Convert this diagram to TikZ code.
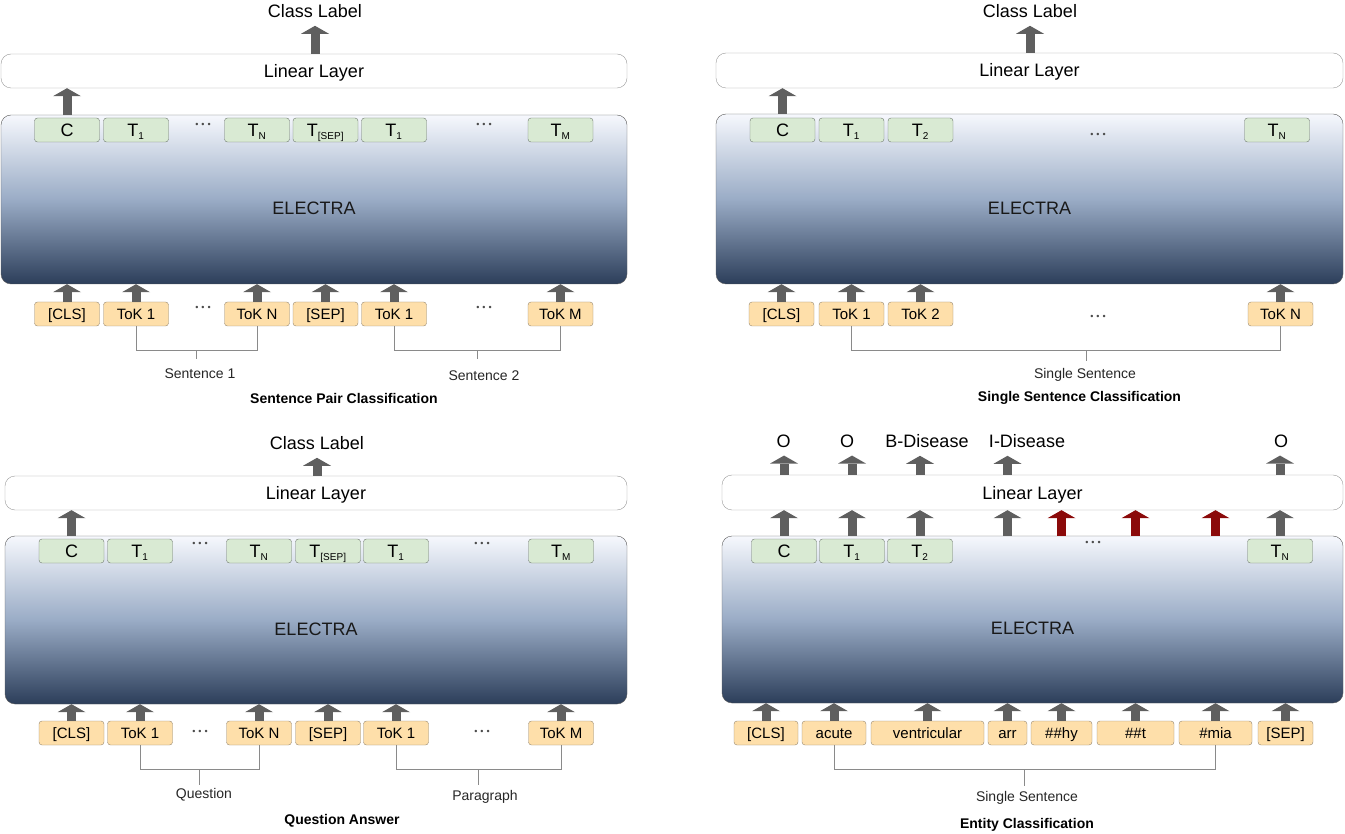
\documentclass[tikz,border=0pt]{standalone}
\usepackage{fontspec}
\setmainfont{Liberation Sans}
\usetikzlibrary{arrows.meta,calc}

\definecolor{tokfill}{HTML}{FEDFAA}
\definecolor{tokline}{HTML}{948670}
\definecolor{embfill}{HTML}{D9EAD3}
\definecolor{embline}{HTML}{6E786E}
\definecolor{linline}{HTML}{9A9A9A}
\definecolor{enctop}{HTML}{F6F8FD}
\definecolor{encmid}{HTML}{9AACC6}
\definecolor{encbot}{HTML}{2C3E5A}
\definecolor{encline}{HTML}{5A5A5A}
\definecolor{arrgray}{HTML}{5F5F5F}
\definecolor{arrred}{HTML}{8B0A0A}
\definecolor{brkgray}{HTML}{8A8A8A}

\newcommand\tsub[1]{\textsubscript{\fontsize{10}{12}\selectfont #1}}
\newcommand\tdots{\fontsize{9}{10}\selectfont\textbullet\hspace{3pt}\textbullet\hspace{3pt}\textbullet}

\begin{document}
\begin{tikzpicture}
                    [x=1pt,y=-1pt,
                     tok/.style={draw=tokline,fill=tokfill,rounded corners=3pt,minimum width=65pt,minimum height=24pt,
                                 inner sep=0pt,text height=11pt,text depth=0pt,font=\fontsize{15}{17}\selectfont},
                     emb/.style={draw=embline,fill=embfill,rounded corners=3pt,minimum width=65pt,minimum height=24pt,
                                 inner sep=0pt,text height=13pt,text depth=0pt,font=\fontsize{18}{20}\selectfont},
                     lin/.style={draw=linline,fill=white,rounded corners=10pt,minimum width=626pt,minimum height=34pt,
                                 text height=13pt,text depth=0pt,font=\fontsize{18}{20}\selectfont},
                     enc/.style={draw=encline,top color=enctop,bottom color=encbot,middle color=encmid,
                                 rounded corners=10pt,minimum width=626pt,minimum height=169pt,
                                 label={[yshift=-9pt,font=\fontsize{18}{20}\selectfont,text=black!90]center:ELECTRA}},
                     up/.style={draw=arrgray,line width=9pt,-{Triangle[width=28pt,length=8pt,line width=0pt]}},
                     brk/.style={draw=brkgray,line width=1pt},
                     outlbl/.style={inner sep=8pt,font=\fontsize{18}{20}\selectfont},
                     lbl/.style={text=black!85,font=\fontsize{14}{16}\selectfont},
                     ttl/.style={font=\bfseries\fontsize{14}{16}\selectfont},
                     dts/.style={text=black!70,inner sep=0pt}]

                \useasboundingbox (0,0) rectangle (1345,834);

                % sentence pair classification
                \node[outlbl] (aC) at (315,11) {Class Label};
                \node[lin] (aL) at (314,71) {Linear Layer};
                \node[enc] (aE) at (314,199.5) {};
                \foreach \i/\x/\t in {1/67/C,2/136/T\tsub{1},3/257/T\tsub{N},4/325.5/T\tsub{[SEP]},5/394/T\tsub{1},6/560.5/T\tsub{M}}
                    \node[emb] (aEmb\i) at (\x,130) {\t};
                \foreach \i/\x/\t in {1/67/{[CLS]},2/136/ToK 1,3/257/ToK N,4/325.5/{[SEP]},5/394/ToK 1,6/560.5/ToK M}
                    \node[tok] (aTok\i) at (\x,314) {\t};
                \node[dts] (aD1) at (203,125) {\tdots};
                \node[dts] (aD2) at (484,125) {\tdots};
                \node[dts] (aD3) at (203,308) {\tdots};
                \node[dts] (aD4) at (484,308) {\tdots};
                \foreach \i in {1,...,6}
                    \draw[up] (aTok\i.north) -- (aTok\i |- aE.south);
                \draw[up] (aE.north -| aEmb1) -- (aL.south -| aEmb1);
                \draw[up] (aL.north -| aC) -- (aC.south);
                \draw[brk] (aTok2.south) -- ++(0,24) -| (aTok3.south);
                \draw[brk] ($(aTok2.south)!.5!(aTok3.south)$) ++(0,24) -- ++(0,9);
                \draw[brk] (aTok5.south) -- ++(0,24) -| (aTok6.south);
                \draw[brk] ($(aTok5.south)!.5!(aTok6.south)$) ++(0,24) -- ++(0,9);
                \node[lbl] (aLb1) at (200,374) {Sentence 1};
                \node[lbl] (aLb2) at (484,376) {Sentence 2};
                \node[ttl] (aT) at (344,398) {Sentence Pair Classification};

                % single sentence classification
                \node[outlbl] (bC) at (1030,11) {Class Label};
                \node[lin,minimum width=627pt,minimum height=35pt] (bL) at (1029.5,70.5) {Linear Layer};
                \node[enc,minimum width=627pt,minimum height=170pt] (bE) at (1029.5,199) {};
                \foreach \i/\x/\t in {1/782.5/C,2/851.5/T\tsub{1},3/920.5/T\tsub{2},4/1277/T\tsub{N}}
                    \node[emb] (bEmb\i) at (\x,130) {\t};
                \foreach \i/\x/\t in {1/781.5/{[CLS]},2/851.5/ToK 1,3/920.5/ToK 2,4/1280.5/ToK N}
                    \node[tok] (bTok\i) at (\x,314) {\t};
                \node[dts] (bD1) at (1098,135) {\tdots};
                \node[dts] (bD2) at (1098,317) {\tdots};
                \foreach \i in {1,...,4}
                    \draw[up] (bTok\i.north) -- (bTok\i |- bE.south);
                \draw[up] (bE.north -| bEmb1) -- (bL.south -| bEmb1);
                \draw[up] (bL.north -| bC) -- (bC.south);
                \draw[brk] (bTok2.south) -- ++(0,24) -| (bTok4.south);
                \draw[brk] ($(bTok2.south)!.547!(bTok4.south)$) ++(0,24) -- ++(0,11);
                \node[lbl] (bLb) at (1085,375) {Single Sentence};
                \node[ttl] (bT) at (1079.5,398) {Single Sentence Classification};

                % question answer
                \node[outlbl] (cC) at (317,443) {Class Label};
                \node[lin,minimum width=622pt] (cL) at (316,493) {Linear Layer};
                \node[enc,minimum width=622pt,minimum height=168pt] (cE) at (316,620) {};
                \foreach \i/\x/\t in {1/71.5/C,2/140/T\tsub{1},3/259/T\tsub{N},4/328/T\tsub{[SEP]},5/396/T\tsub{1},6/561/T\tsub{M}}
                    \node[emb] (cEmb\i) at (\x,551) {\t};
                \foreach \i/\x/\t in {1/71.5/{[CLS]},2/140/ToK 1,3/259/ToK N,4/328/{[SEP]},5/396/ToK 1,6/561/ToK M}
                    \node[tok] (cTok\i) at (\x,733) {\t};
                \node[dts] (cD1) at (200,544) {\tdots};
                \node[dts] (cD2) at (482,544) {\tdots};
                \node[dts] (cD3) at (200,732) {\tdots};
                \node[dts] (cD4) at (482,732) {\tdots};
                \foreach \i in {1,...,6}
                    \draw[up] (cTok\i.north) -- (cTok\i |- cE.south);
                \draw[up] (cE.north -| cEmb1) -- (cL.south -| cEmb1);
                \draw[up] (cL.north -| cC) -- (cC.south);
                \draw[brk] (cTok2.south) -- ++(0,24) -| (cTok3.south);
                \draw[brk] ($(cTok2.south)!.5!(cTok3.south)$) ++(0,24) -- ++(0,16);
                \draw[brk] (cTok5.south) -- ++(0,24) -| (cTok6.south);
                \draw[brk] ($(cTok5.south)!.5!(cTok6.south)$) ++(0,24) -- ++(0,16);
                \node[lbl] (cLb1) at (204,795) {Question};
                \node[lbl] (cLb2) at (485,797) {Paragraph};
                \node[ttl] (cT) at (342,821) {Question Answer};

                % entity classification
                \node[lin,minimum width=621pt,minimum height=35pt] (dL) at (1032.5,492.5) {Linear Layer};
                \node[enc,minimum width=621pt,minimum height=167pt] (dE) at (1032.5,619.5) {};
                \foreach \i/\x/\t in {1/784/C,2/852/T\tsub{1},3/920/T\tsub{2},4/1280/T\tsub{N}}
                    \node[emb] (dEmb\i) at (\x,551) {\t};
                \foreach \i/\x/\w/\t in {1/766/64/{[CLS]},2/834/64/acute,3/927.5/113/ventricular,4/1007.5/39/arr,
                                         5/1061.5/61/\#\#hy,6/1135.5/77/\#\#t,7/1215.5/73/\#mia,8/1285.5/55/{[SEP]}}
                    \node[tok,minimum width=\w pt] (dTok\i) at (\x,733) {\t};
                \node[dts] (dD1) at (1093,543) {\tdots};
                \foreach \o/\x/\t in {1/783.5/O,2/847/O,3/927/B-Disease,4/1027/I-Disease,5/1281/O}
                    \node[outlbl] (dO\o) at (\x,441) {\t};
                \foreach \i in {1,...,8}
                    \draw[up] (dTok\i.north) -- (dTok\i |- dE.south);
                \foreach \n/\o in {dEmb1/dO1,dEmb2/dO2,dEmb3/dO3,dTok4/dO4,dEmb4/dO5}{
                    \draw[up] (dE.north -| \n) -- (dL.south -| \n);
                    \draw[up] (dL.north -| \n) -- (\n |- \o.south);
                }
                \foreach \n in {dTok5,dTok6,dTok7}
                    \draw[up,draw=arrred] (dE.north -| \n) -- (dL.south -| \n);
                \draw[brk] (dTok2.south) -- ++(0,24) -| (dTok7.south);
                \draw[brk] ($(dTok2.south)!.5!(dTok7.south)$) ++(0,24) -- ++(0,17);
                \node[lbl] (dLb) at (1027,798) {Single Sentence};
                \node[ttl] (dT) at (1027,825) {Entity Classification};

                \end{tikzpicture}
\end{document}
